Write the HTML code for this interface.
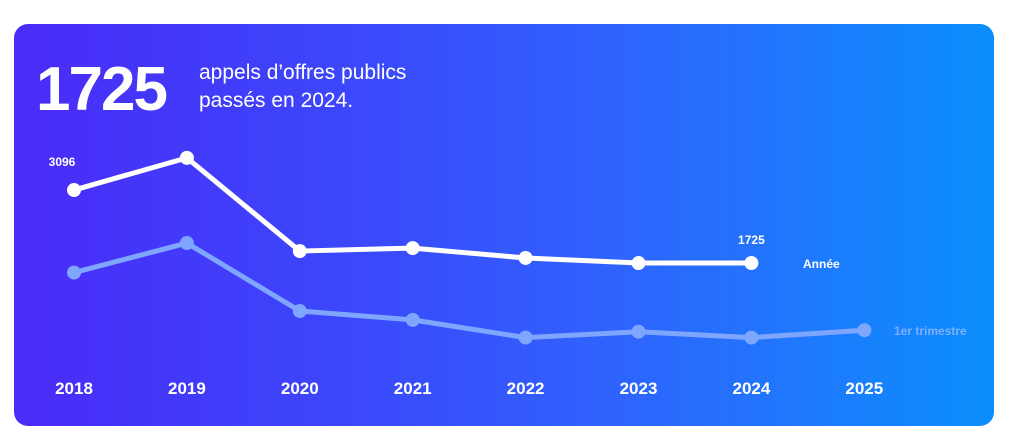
<!DOCTYPE html>
<html><head><meta charset="utf-8"><style>
body{margin:0;width:1024px;height:446px;background:#fff;overflow:hidden;font-family:"Liberation Sans",sans-serif}
#card{position:absolute;left:14px;top:24px;width:980px;height:402px;border-radius:14px;background:linear-gradient(90deg,#4a2bf7 0%,#3b48fb 35%,#2f62fd 60%,#1f78fd 80%,#0a8ffb 100%);overflow:hidden}
</style></head><body>
<div id="card">
<svg id="svg" width="980" height="402" style="position:absolute;left:0;top:0">
<text x="22" y="86" font-size="62" font-weight="bold" fill="#fff" letter-spacing="-2">1725</text>
<text x="185" y="55" font-size="21" fill="#fff">appels d’offres publics</text>
<text x="185" y="83" font-size="21" fill="#fff">passés en 2024.</text>
</svg>
</div>
<script>
const years=["2018","2019","2020","2021","2022","2023","2024","2025"];
const annual=[3096,3700,1950,2006,1820,1725,1725];
const quarter=[800,900,670,640,580,600,580,605];
const ox=14,oy=24;
const x=i=>74+i*112.9-ox;
const ya=v=>354.9-v*0.05325-oy;
const yq=v=>509-v*0.2955-oy;
const svg=document.getElementById('svg');
const NS='http://www.w3.org/2000/svg';
function mk(t,a){const e=document.createElementNS(NS,t);for(const k in a)e.setAttribute(k,a[k]);svg.appendChild(e);return e;}
function line(vals,yf,col,name){
 const pts=vals.map((v,i)=>x(i)+','+yf(v)).join(' ');
 const p=mk('polyline',{points:pts,fill:'none',stroke:col,'stroke-width':5,'stroke-linejoin':'round','stroke-linecap':'round'});
 
 
 vals.forEach((v,i)=>{const c=mk('circle',{cx:x(i),cy:yf(v),r:7,fill:col});
  
  });
}
line(quarter,yq,'#7fa6ff','quarter');
line(annual,ya,'#ffffff','annual');
years.forEach((y,i)=>{const t=mk('text',{x:x(i),y:370,'text-anchor':'middle','font-size':17,'font-weight':'bold',fill:'#fff'});t.textContent=y;
 
 });
const l1=mk('text',{x:x(0)-12,y:ya(annual[0])-24,'text-anchor':'middle','font-size':12,'font-weight':'bold',fill:'#fff'});l1.textContent=annual[0];


const l2=mk('text',{x:x(6),y:ya(annual[6])-19,'text-anchor':'middle','font-size':12,'font-weight':'bold',fill:'#fff'});l2.textContent=annual[6];


const a=mk('text',{x:789,y:ya(annual[6])+5,'font-size':12,'font-weight':'bold',fill:'#fff'});a.textContent='Année';


const q=mk('text',{x:880,y:yq(quarter[7])+5,'font-size':12,'font-weight':'bold',fill:'#7fb0ff'});q.textContent='1er trimestre';


</script>
</body></html>
